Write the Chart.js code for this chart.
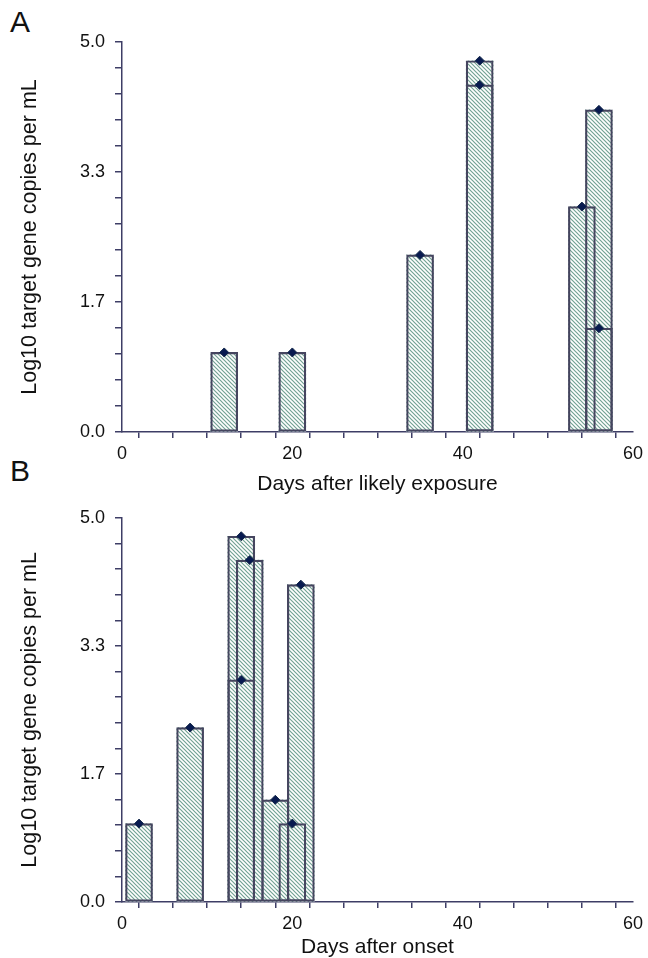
<!DOCTYPE html>
<html>
<head>
<meta charset="utf-8">
<script src="https://cdn.jsdelivr.net/npm/chart.js@4.4.0/dist/chart.umd.min.js"></script>
<style>
body{margin:0;background:#fff;width:648px;height:958px;position:relative;overflow:hidden;font-family:"Liberation Sans",Arial,sans-serif}
canvas{position:absolute;left:0;z-index:2}
#graficoA{top:0}
#graficoB{top:497px}
.letra{position:absolute;font-size:30px;line-height:30px;color:#111;z-index:1}
</style>
</head>
<body>
<div class="letra" style="left:10px;top:7px">A</div>
<div class="letra" style="left:10px;top:456px">B</div>
<canvas id="graficoA" width="648" height="497"></canvas>
<canvas id="graficoB" width="648" height="461"></canvas>
<script>
// datos: dias y log10 copias por mL
var diasExposicion = [12, 20, 35, 42, 42, 54, 56, 56];
var copiasExposicion = [1.02, 1.02, 2.27, 4.76, 4.45, 2.89, 4.13, 1.33];
var diasInicio = [2, 8, 14, 14, 15, 18, 20, 21];
var copiasInicio = [1.02, 2.27, 4.76, 2.89, 4.45, 1.33, 1.02, 4.13];

var etiquetasY = ["0.0", "1.7", "3.3", "5.0"];
var etiquetasX = [0, 20, 40, 60];

var colorEje = "#3e3e66";
var fuente = "'Liberation Sans', Arial, sans-serif";

//patron rayado (fondo blanco para que no se oscurezca al superponer)
function rayado(){
	var c = document.createElement("canvas");
	c.width = 4; c.height = 4;
	var g = c.getContext("2d");
	g.fillStyle = "#ffffff";
	g.fillRect(0,0,4,4);
	g.strokeStyle = "#73a294";
	g.lineWidth = 1.2;
	g.beginPath();
	g.moveTo(-1,-1); g.lineTo(5,5);
	g.moveTo(-1,3); g.lineTo(1,5);
	g.moveTo(3,-1); g.lineTo(5,1);
	g.stroke();
	return g.createPattern(c, "repeat");
}

function puntos(dias, copias){
	var p = [];
	for(var i=0;i<dias.length;i++){
		p.push({x: dias[i], y: copias[i]});
	}
	return p;
}

function crearGrafico(id, dias, copias, tituloX, padArriba, altoEjeX, padTituloX){
	var ctx = document.getElementById(id);
	var datos = puntos(dias, copias);
	return new Chart(ctx, {
		type: 'bar',
		data: {
			datasets: [
				{
					type: 'scatter',
					data: datos,
					order: 0,
					pointStyle: 'rectRot',
					pointRadius: 4.5,
					backgroundColor: "#081a50",
					borderColor: "#13284a",
					borderWidth: 1
				},
				{
					//solo contornos
					type: 'bar',
					data: datos,
					order: 1,
					grouped: false,
					barThickness: 27,
					backgroundColor: "rgba(0,0,0,0)",
					borderColor: "#45455f",
					borderWidth: 1.5,
					borderSkipped: false
				},
				{
					//solo relleno
					type: 'bar',
					data: datos,
					order: 2,
					grouped: false,
					barThickness: 27,
					backgroundColor: rayado(),
					borderWidth: 0
				}
			]
		},
		options: {
			responsive: false,
			animation: false,
			layout: { padding: { top: padArriba, right: 15, left: 0, bottom: 0 } },
			plugins: { legend: { display: false }, tooltip: { enabled: false } },
			scales: {
				x: {
					type: 'linear',
					min: 0,
					max: 60,
					offset: false,
					grid: { display: true, drawOnChartArea: false, drawTicks: true, tickLength: 6, color: colorEje, lineWidth: 1.5 },
					border: { display: true, color: colorEje, width: 1.5 },
					ticks: {
						stepSize: 4,
						autoSkip: false,
						maxRotation: 0,
						padding: 5,
						color: "#111",
						font: { family: fuente, size: 18 },
						callback: function(v){ return etiquetasX.indexOf(v) >= 0 ? String(v) : ''; }
					},
					title: {
						display: true,
						text: tituloX,
						color: "#111",
						font: { family: fuente, size: 21, lineHeight: 1 },
						padding: { top: 0, bottom: padTituloX }
					},
					afterFit: function(s){ s.height = altoEjeX; }
				},
				y: {
					min: 0,
					max: 5,
					grid: { display: true, drawOnChartArea: false, drawTicks: true, tickLength: 7, color: colorEje, lineWidth: 1.5 },
					border: { display: true, color: colorEje, width: 1.5 },
					afterBuildTicks: function(s){
						var t = [];
						for(var k=0;k<=15;k++){ t.push({value: k*5/15}); }
						s.ticks = t;
					},
					ticks: {
						autoSkip: false,
						padding: 10,
						color: "#111",
						font: { family: fuente, size: 18 },
						callback: function(v, i){ return i % 5 == 0 ? etiquetasY[i/5] : ''; }
					},
					title: {
						display: true,
						text: "Log10 target gene copies per mL",
						color: "#111",
						font: { family: fuente, size: 21.5, lineHeight: 1 },
						padding: { top: 19, bottom: 0 }
					},
					afterFit: function(s){ s.width = 122; }
				}
			}
		}
	});
}

crearGrafico("graficoA", diasExposicion, copiasExposicion, "Days after likely exposure", 42, 65, 2);
crearGrafico("graficoB", diasInicio, copiasInicio, "Days after onset", 16, 56, 0);
</script>
</body>
</html>
